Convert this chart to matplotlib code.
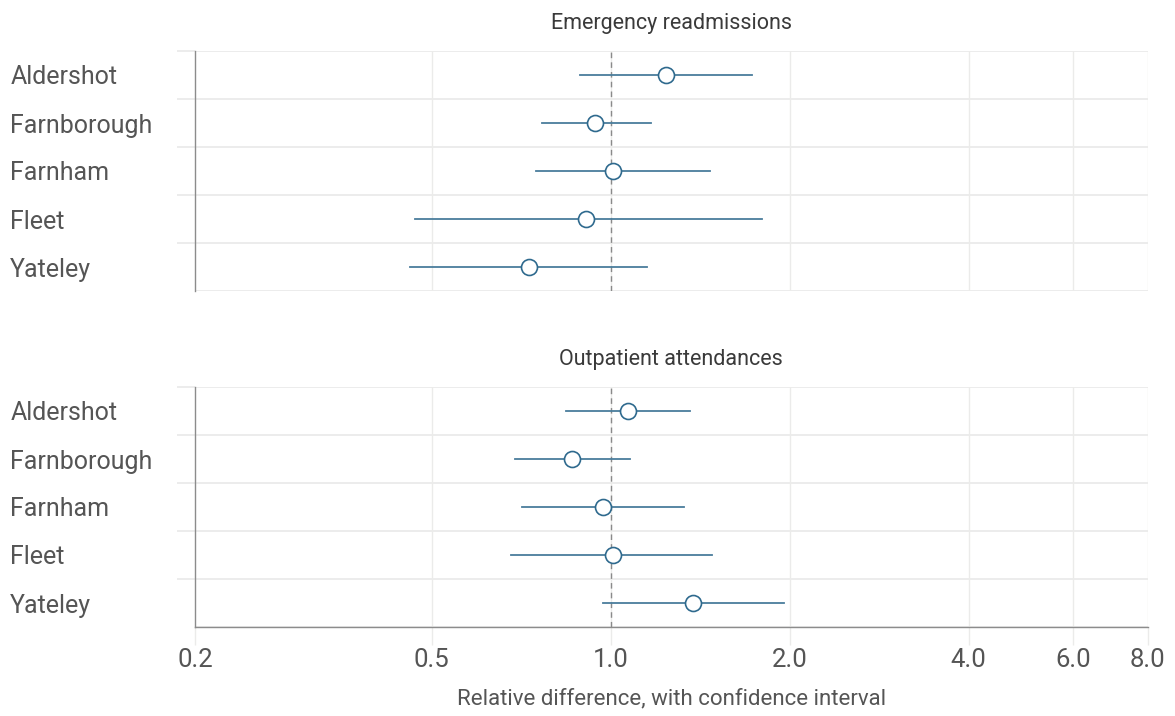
import matplotlib
matplotlib.use("Agg")
import matplotlib.pyplot as plt
import numpy as np
from matplotlib.ticker import FixedLocator, NullFormatter, NullLocator

sites = ["Aldershot", "Farnborough", "Farnham", "Fleet", "Yateley"]

panel_titles = ["Emergency readmissions", "Outpatient attendances"]

readm_est = [1.24, 0.94, 1.01, 0.91, 0.73]
readm_low = [0.89, 0.766, 0.75, 0.469, 0.46]
readm_high = [1.73, 1.17, 1.47, 1.80, 1.15]

outp_est = [1.07, 0.86, 0.97, 1.01, 1.375]
outp_low = [0.84, 0.69, 0.71, 0.681, 0.971]
outp_high = [1.36, 1.079, 1.33, 1.48, 1.96]

xticks = [0.2, 0.5, 1.0, 2.0, 4.0, 6.0, 8.0]
xticklabels = ["0.2", "0.5", "1.0", "2.0", "4.0", "6.0", "8.0"]
xlabel = "Relative difference, with confidence interval"

plt.rcParams["font.family"] = ["Roboto", "DejaVu Sans"]

W, H = 1175, 716
fig = plt.figure(figsize=(W / 100, H / 100), dpi=100)

left = 195 / W
right = 1147.5 / W
axes_px = [(51, 291), (387, 627)]

grid_col = "#ebebea"
text_col = "#555555"
line_col = "#4a7d9c"
edge_col = "#2f6a8e"

data = [(readm_est, readm_low, readm_high), (outp_est, outp_low, outp_high)]

for i, ((top, bot), title, (est, lo, hi)) in enumerate(zip(axes_px, panel_titles, data)):
    ax = fig.add_axes([left, 1 - bot / H, right - left, (bot - top) / H])
    ax.set_xscale("log")
    ax.set_xlim(0.2, 8.0)
    n = len(sites)
    ax.set_ylim(n - 0.5, -0.5)
    y = np.arange(n)

    # vertical gridlines
    for xv in xticks[1:]:
        ax.axvline(xv, color=grid_col, lw=1.0, zorder=0)
    # horizontal gridlines at band boundaries
    for b in np.arange(-0.5, n, 1.0):
        ax.axhline(b, color=grid_col, lw=1.3, zorder=0)
    # reference line
    ax.axvline(1.0, color="#8a8a8a", lw=1.0, ls=(0, (4, 3)), zorder=1)

    for k in range(n):
        ax.plot([lo[k], hi[k]], [y[k], y[k]], color=line_col, lw=1.3, zorder=2)
    ax.plot(est, y, ls="none", marker="o", ms=11.5, mfc="white", mec=edge_col,
            mew=1.2, zorder=3)

    # y ticks: boundaries (light, extending left) and labels at centres
    ax.yaxis.set_major_locator(FixedLocator(list(np.arange(-0.5, n - 1, 1.0))))
    ax.yaxis.set_major_formatter(NullFormatter())
    ax.tick_params(axis="y", which="major", length=13, color=grid_col, width=1.3)
    ax.yaxis.set_minor_locator(FixedLocator(list(y)))
    ax.set_yticklabels(sites, minor=True)
    ax.tick_params(axis="y", which="minor", length=0, pad=133,
                   labelsize=18, labelcolor=text_col)
    for lab in ax.get_yticklabels(minor=True):
        lab.set_horizontalalignment("left")

    ax.xaxis.set_minor_locator(NullLocator())
    ax.set_xticks(xticks)
    if i == 1:
        ax.set_xticklabels(xticklabels)
        ax.tick_params(axis="x", which="major", length=13, color=grid_col,
                       width=1.0, labelsize=18.5, labelcolor=text_col, pad=2)
        ax.set_xlabel(xlabel, fontsize=16, color=text_col, labelpad=12)
    else:
        ax.tick_params(axis="x", which="major", length=0, labelbottom=False)

    for s in ["top", "right"]:
        ax.spines[s].set_visible(False)
    ax.spines["left"].set_color("#8c8c8c")
    ax.spines["left"].set_linewidth(1.0)
    if i == 1:
        ax.spines["bottom"].set_color("#8c8c8c")
        ax.spines["bottom"].set_linewidth(1.0)
    else:
        ax.spines["bottom"].set_visible(False)

    ax.set_title(title, fontsize=15.5, color="#3a3a3a", pad=16)

fig.savefig("out.png", dpi=100, facecolor="white")
